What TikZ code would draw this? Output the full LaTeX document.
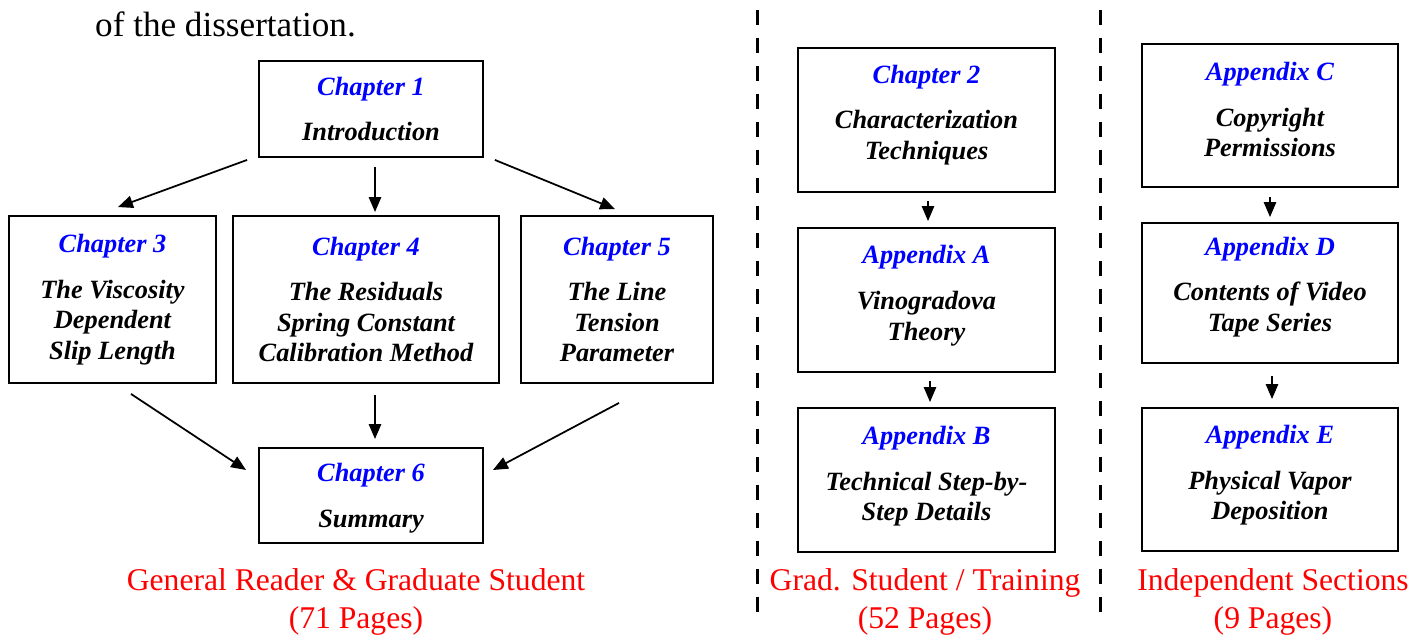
\documentclass[tikz,border=0pt]{standalone}
\usepackage{fontspec}
\setmainfont{Liberation Serif}
\usetikzlibrary{arrows.meta, calc}
\definecolor{chapblue}{RGB}{0,0,255}
\definecolor{audred}{RGB}{255,0,0}
\tikzstyle{part} = [rectangle, draw, line width=1.1pt, align=center, font=\fontsize{15}{17.4}\selectfont\bfseries\itshape]
\tikzstyle{link} = [-{Triangle[length=8.5pt, width=7pt]}, line width=1pt]
\tikzstyle{audience} = [align=center, text=audred, font=\fontsize{18}{21.5}\selectfont]
\tikzstyle{divider} = [line width=1.7pt, dash pattern=on 8.5pt off 7.4pt]
\newcommand{\bluehead}[1]{\textcolor{chapblue}{#1}\\[8.6pt]}

\begin{document}
\begin{tikzpicture}[x=0.02cm, y=-0.02cm]
  \useasboundingbox (0,0) rectangle (1426,635);

  % lead-in text
  \node[anchor=base west, font=\fontsize{20}{24}\selectfont] (lead) at (89,37) {of the dissertation.};

  % main chapters
  \node[part, minimum width=4.48cm, minimum height=1.92cm] (ch1) at (371,109) {\bluehead{Chapter 1}Introduction};
  \node[part, minimum width=4.14cm, minimum height=3.34cm] (ch3) at (112.5,299.5) {\bluehead{Chapter 3}The Viscosity\\Dependent\\Slip Length};
  \node[part, minimum width=5.32cm, minimum height=3.34cm] (ch4) at (366,299.5) {\bluehead{Chapter 4}The Residuals\\Spring Constant\\Calibration Method};
  \node[part, minimum width=3.84cm, minimum height=3.34cm] (ch5) at (617,299.5) {\bluehead{Chapter 5}The Line\\Tension\\Parameter};
  \node[part, minimum width=4.48cm, minimum height=1.9cm, text depth=-2pt] (ch6) at (371,495.5) {\bluehead{Chapter 6}Summary};

  % training column
  \node[part, minimum width=5.14cm, minimum height=2.88cm, text depth=9pt] (ch2) at (926.5,120) {\bluehead{Chapter 2}Characterization\\Techniques};
  \node[part, minimum width=5.14cm, minimum height=2.88cm, text depth=8pt] (appA) at (926.5,300) {\bluehead{Appendix A}Vinogradova\\Theory};
  \node[part, minimum width=5.14cm, minimum height=2.88cm, text depth=7.5pt] (appB) at (926.5,480) {\bluehead{Appendix B}Technical Step-by-\\Step Details};

  % independent column
  \node[part, minimum width=5.12cm, minimum height=2.86cm, text depth=7pt] (appC) at (1270,115.5) {\bluehead{Appendix C}Copyright\\Permissions};
  \node[part, minimum width=5.12cm, minimum height=2.8cm, text depth=10pt] (appD) at (1270,293) {\bluehead{Appendix D}Contents of Video\\Tape Series};
  \node[part, minimum width=5.12cm, minimum height=2.86cm, text depth=8pt] (appE) at (1270,479.5) {\bluehead{Appendix E}Physical Vapor\\Deposition};

  % reading paths
  \draw[link] ($(ch1.south west)+(-11,2)$) -- ($(ch3.north)+(5.5,-8)$);
  \draw[link] ($(ch1.south)+(4,9)$) -- ($(ch4.north)+(9,-3)$);
  \draw[link] ($(ch1.south east)+(11,2)$) -- ($(ch5.north)+(-2,-6)$);
  \draw[link] ($(ch3.south)+(18.5,10)$) -- ($(ch6.west)+(-12,-25.5)$);
  \draw[link] ($(ch4.south)+(9,11)$) -- ($(ch6.north)+(4,-8)$);
  \draw[link] ($(ch5.south)+(2,19)$) -- ($(ch6.east)+(9,-25.5)$);
  \draw[link] ($(ch2.south)+(1.5,8)$) -- ($(appA.north)+(1.5,-6)$);
  \draw[link] ($(appA.south)+(3.5,8)$) -- ($(appB.north)+(3.5,-5)$);
  \draw[link] ($(appC.south)+(0,9)$) -- ($(appD.north)+(0,-5)$);
  \draw[link] ($(appD.south)+(2,12)$) -- ($(appE.north)+(2,-8)$);

  % dividers
  \draw[divider] (757,10) -- (757,612);
  \draw[divider] (1100,10) -- (1100,612);

  % audiences
  \node[audience] (aud1) at (356,602) {General Reader \& Graduate Student\\(71 Pages)};
  \node[audience] (aud2) at (925,602) {Grad. Student / Training\\(52 Pages)};
  \node[audience] (aud3) at (1273,602) {Independent Sections\\(9 Pages)};
\end{tikzpicture}
\end{document}
